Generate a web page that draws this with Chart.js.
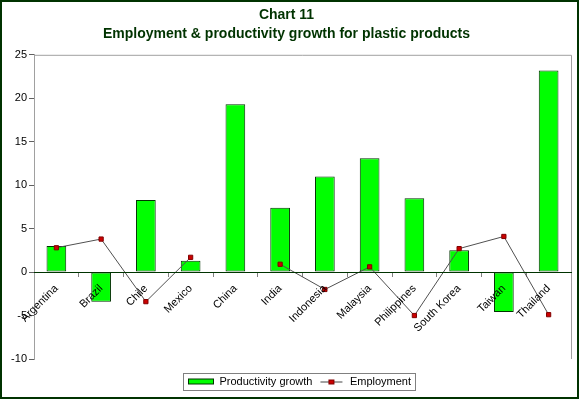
<!DOCTYPE html>
<html>
<head>
<meta charset="utf-8">
<script src="https://cdn.jsdelivr.net/npm/chart.js@4.4.1/dist/chart.umd.min.js"></script>
<style>
    html, body { margin: 0; padding: 0; background: #fff; }
    .frame {
        width: 579px; height: 399px; box-sizing: border-box;
        border: 2px solid #003300; background: #fff;
    }
    .frame canvas { display: block; }
</style>
</head>
<body>
<div class="frame">
    <canvas id="chart" width="575" height="395"></canvas>
</div>
<script>
// Chart data
const categories = ['Argentina', 'Brazil', 'Chile', 'Mexico', 'China', 'India',
    'Indonesia', 'Malaysia', 'Philippines', 'South Korea', 'Taiwan', 'Thailand'];
const productivityGrowth = [3.0, -3.4, 8.3, 1.3, 19.3, 7.4, 11.0, 13.1, 8.5, 2.5, -4.6, 23.2];
const employment = [2.8, 3.8, -3.4, 1.7, null, 0.9, -2.0, 0.6, -5.0, 2.7, 4.1, -4.9];
const yTicks = [-10, -5, 0, 5, 10, 15, 20, 25];
const titleLines = ['Chart 11', 'Employment & productivity growth for plastic products'];

const FONT = 'Arial, "Liberation Sans", sans-serif';

// small legend symbols
function makeSymbol(kind) {
    const c = document.createElement('canvas');
    c.width = 26; c.height = 8;
    const ctx = c.getContext('2d');
    if (kind === 'bar') {
        ctx.fillStyle = '#00ff00';
        ctx.fillRect(0.5, 1.5, 25, 5);
        ctx.strokeStyle = '#003300';
        ctx.strokeRect(0.5, 1.5, 25, 5);
    } else {
        ctx.strokeStyle = '#444';
        ctx.beginPath();
        ctx.moveTo(2, 4.5); ctx.lineTo(24, 4.5);
        ctx.stroke();
        ctx.fillStyle = '#cc0000';
        ctx.fillRect(10, 2, 6, 5);
        ctx.strokeStyle = '#800000';
        ctx.strokeRect(10.5, 2.5, 5, 4);
    }
    return c;
}

// frame around plot area + legend box
const boxesPlugin = {
    id: 'boxes',
    afterLayout(chart) {
        // nudge the legend a bit to the right, like the original
        const lg = chart.legend;
        if (lg) { lg.left += 13; lg.right += 13; }
    },
    beforeDatasetsDraw(chart) {
        const { ctx, chartArea } = chart;
        ctx.save();
        ctx.strokeStyle = '#a0a0a0';
        ctx.lineWidth = 1;
        ctx.beginPath();
        ctx.moveTo(chartArea.left, chartArea.top + 0.5);
        ctx.lineTo(chartArea.right + 0.5, chartArea.top + 0.5);
        ctx.lineTo(chartArea.right + 0.5, chartArea.bottom);
        ctx.stroke();
        ctx.restore();
    },
    afterDraw(chart) {
        const boxes = chart.legend && chart.legend.legendHitBoxes;
        if (!boxes || !boxes.length) return;
        const left = Math.min(...boxes.map(b => b.left)) - 5;
        const right = Math.max(...boxes.map(b => b.left + b.width)) + 4;
        const top = boxes[0].top - 3;
        const bottom = boxes[0].top + boxes[0].height + 3;
        const ctx = chart.ctx;
        ctx.save();
        ctx.strokeStyle = '#808080';
        ctx.lineWidth = 1;
        ctx.strokeRect(Math.round(left) + 0.5, Math.round(top) + 0.5,
            Math.round(right - left), Math.round(bottom - top));
        ctx.restore();
    }
};

const symbols = { bar: makeSymbol('bar'), line: makeSymbol('line') };

new Chart(document.getElementById('chart'), {
    data: {
        labels: categories,
        datasets: [
            {
                type: 'line',
                label: 'Employment',
                data: employment,
                borderColor: '#505050',
                borderWidth: 1,
                pointStyle: 'rect',
                pointRadius: 3,
                pointBackgroundColor: '#cc0000',
                pointBorderColor: '#800000',
                pointBorderWidth: 1,
                spanGaps: false,
                order: 1
            },
            {
                type: 'bar',
                label: 'Productivity growth',
                data: productivityGrowth,
                backgroundColor: '#00ff00',
                borderColor: '#003300',
                borderWidth: 1,
                borderSkipped: false,
                barPercentage: 0.44,
                categoryPercentage: 1.0,
                order: 2
            }
        ]
    },
    options: {
        responsive: false,
        animation: false,
        layout: { padding: { left: 0, right: 6, top: 0, bottom: 0 } },
        scales: {
            x: {
                type: 'category',
                position: { y: 0 },
                grid: {
                    offset: true,
                    drawOnChartArea: false,
                    drawTicks: true,
                    tickLength: 4,
                    color: '#808080'
                },
                border: { display: true, color: '#003300', width: 1, z: 1 },
                ticks: {
                    z: 1,
                    minRotation: 45,
                    maxRotation: 45,
                    autoSkip: false,
                    padding: 6,
                    color: '#000',
                    font: { family: FONT, size: 11 }
                }
            },
            y: {
                min: -10,
                max: 25,
                afterBuildTicks(scale) {
                    scale.ticks = yTicks.map(v => ({ value: v }));
                },
                afterFit(scale) { scale.width = 32; },
                grid: {
                    drawOnChartArea: false,
                    tickLength: 5,
                    color: '#606060'
                },
                border: { display: true, color: '#a0a0a0', width: 1 },
                ticks: {
                    padding: 2,
                    color: '#000',
                    font: { family: FONT, size: 11 }
                }
            }
        },
        plugins: {
            title: {
                display: true,
                text: titleLines,
                color: '#003300',
                font: { family: FONT, size: 14, weight: 'bold', lineHeight: 1.35 },
                padding: { top: 4, bottom: 11 }
            },
            legend: {
                display: true,
                position: 'bottom',
                reverse: true,
                title: {
                    display: true,
                    text: ' ',
                    font: { size: 1, lineHeight: 1 },
                    padding: { top: 10, bottom: 0 }
                },
                labels: {
                    color: '#000',
                    font: { family: FONT, size: 11 },
                    usePointStyle: true,
                    pointStyleWidth: 26,
                    boxHeight: 8,
                    padding: 6,
                    generateLabels(chart) {
                        return chart.data.datasets.map((ds, i) => ({
                            text: ds.label,
                            pointStyle: ds.type === 'bar' ? symbols.bar : symbols.line,
                            datasetIndex: i,
                            fontColor: '#000',
                            hidden: false,
                            lineWidth: 0
                        }));
                    }
                }
            },
            tooltip: { enabled: false }
        }
    },
    plugins: [boxesPlugin]
});
</script>
</body>
</html>
